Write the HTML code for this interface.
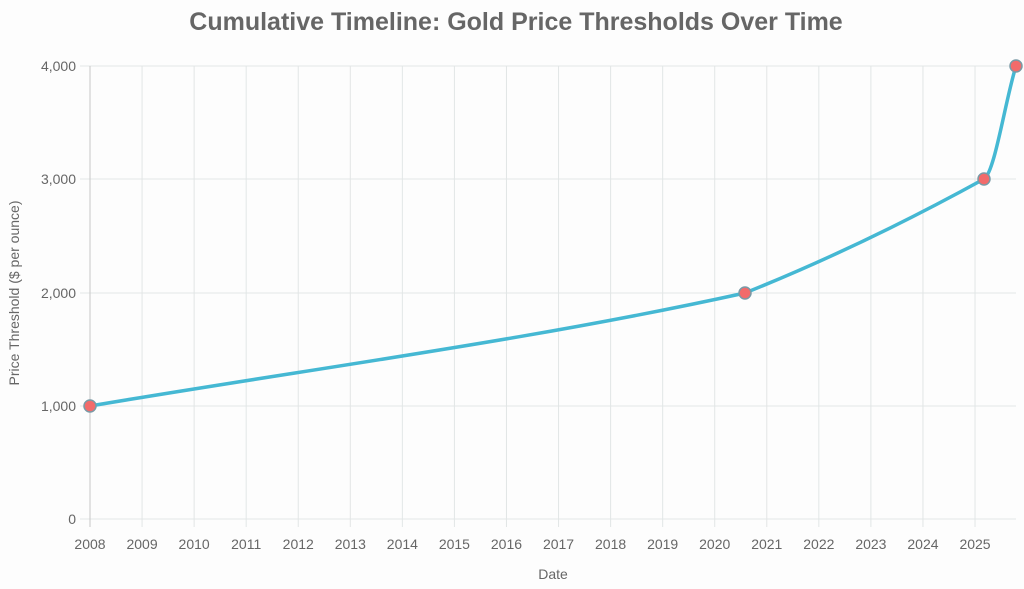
<!DOCTYPE html>
<html><head><meta charset="utf-8"><style>
body{margin:0;background:#fdfdfd;}
svg{display:block;font-family:"Liberation Sans",sans-serif;}
</style></head><body>
<svg width="1024" height="589" viewBox="0 0 1024 589">
<rect width="1024" height="589" fill="#fdfdfd"/>
<text x="516" y="30" text-anchor="middle" font-size="25" font-weight="bold" fill="#666">Cumulative Timeline: Gold Price Thresholds Over Time</text>
<g stroke="#e2e6e6" stroke-width="1">
<line x1="80" y1="519" x2="1016" y2="519"/>
<line x1="80" y1="406" x2="1016" y2="406"/>
<line x1="80" y1="293" x2="1016" y2="293"/>
<line x1="80" y1="179" x2="1016" y2="179"/>
<line x1="80" y1="66" x2="1016" y2="66"/>
</g>
<g id="vg" stroke="#e2e6e6" stroke-width="1"></g>
<line x1="90" y1="66" x2="90" y2="527" stroke="#c8c8c8"/>
<g font-size="14" fill="#666" text-anchor="end">
<text x="76" y="524">0</text>
<text x="76" y="411">1,000</text>
<text x="76" y="298">2,000</text>
<text x="76" y="184">3,000</text>
<text x="76" y="71">4,000</text>
</g>
<g id="xl" font-size="14" fill="#666" text-anchor="middle"></g>
<text x="553" y="579" text-anchor="middle" font-size="14" fill="#666">Date</text>
<text transform="translate(19,293) rotate(-90)" text-anchor="middle" font-size="14" fill="#666">Price Threshold ($ per ounce)</text>
<path d="M90,406 C308.3,369 526.7,341 745,293 C824.7,261 904.3,222.8 984,179 C994.7,173 1005.3,100 1016,66" fill="none" stroke="#45b8d3" stroke-width="3.5"/>
<g fill="#f26b6b" stroke="#7a9aa6" stroke-width="1.5">
<circle cx="90" cy="406" r="6"/>
<circle cx="745" cy="293" r="6"/>
<circle cx="984" cy="179" r="6"/>
<circle cx="1016" cy="66" r="6"/>
</g>
</svg>
<script>
var vg=document.getElementById('vg'),xl=document.getElementById('xl'),ns='http://www.w3.org/2000/svg';
for(var i=0;i<=17;i++){var x=90+i*52.06;
if(i>0){var l=document.createElementNS(ns,'line');l.setAttribute('x1',x);l.setAttribute('x2',x);l.setAttribute('y1',66);l.setAttribute('y2',527);vg.appendChild(l);}
var t=document.createElementNS(ns,'text');t.setAttribute('x',x);t.setAttribute('y',549);t.textContent=2008+i;xl.appendChild(t);}
</script>
</body></html>
